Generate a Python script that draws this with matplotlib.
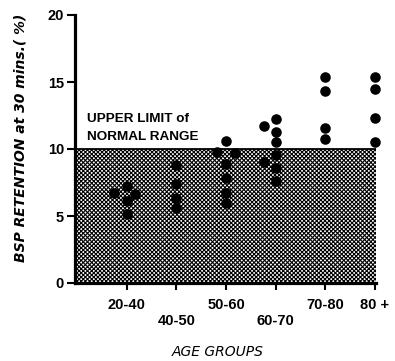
import matplotlib
matplotlib.use("Agg")
import matplotlib.pyplot as plt
import numpy as np

# ---- data ----
categories = ["20-40", "40-50", "50-60", "60-70", "70-80", "80 +"]
# per point: group index (0-based), small lateral offset, value
point_group = [0, 0, 0, 0, 0,
               1, 1, 1, 1,
               2, 2, 2, 2, 2, 2, 2,
               3, 3, 3, 3, 3, 3, 3, 3,
               4, 4, 4, 4,
               5, 5, 5, 5]
point_offset = [-0.25, 0.0, 0.17, 0.0, 0.0,
                0.0, 0.0, 0.0, 0.0,
                0.0, -0.19, 0.19, 0.0, 0.0, 0.0, 0.0,
                -0.23, 0.0, 0.0, 0.0, 0.0, -0.23, 0.0, 0.0,
                0.0, 0.0, 0.0, 0.0,
                0.0, 0.0, 0.0, 0.0]
point_value = [6.74, 7.26, 6.62, 6.12, 5.13,
               8.80, 7.38, 6.38, 5.57,
               10.58, 9.76, 9.68, 8.90, 7.87, 6.75, 5.95,
               11.75, 12.24, 11.27, 10.52, 9.52, 9.05, 8.56, 7.60,
               15.40, 14.30, 11.54, 10.75,
               15.40, 14.48, 12.34, 10.50]
upper_limit = 10
y_ticks = [0, 5, 10, 15, 20]

plt.rcParams['hatch.linewidth'] = 0.8
FAM = ['Liberation Sans', 'DejaVu Sans']

W, H = 395, 361
fig = plt.figure(figsize=(W / 100, H / 100), dpi=100)
ax = fig.add_axes([75 / W, 1 - 283 / H, (376 - 75) / W, (283 - 15) / H])

ax.set_xlim(-0.04, 6.02)
ax.set_ylim(0, 20)

# shaded normal range
ax.fill_between([-0.04, 6.02], 0, upper_limit, facecolor='white',
                edgecolor='black', hatch='x' * 8, linewidth=0, zorder=1)
ax.axhline(upper_limit, color='black', linewidth=1.3, zorder=2)

xs = np.array(point_group) + 1 + np.array(point_offset)
ax.plot(xs, point_value, 'o', color='black', markersize=7.6,
        markeredgewidth=0, clip_on=False, zorder=3)

ax.text(0.20, 12.04, "UPPER LIMIT of", fontsize=9.7, fontweight='bold',
        family=FAM, va='baseline', ha='left', zorder=4)
ax.text(0.20, 10.67, "NORMAL RANGE", fontsize=9.7, fontweight='bold',
        family=FAM, va='baseline', ha='left', zorder=4)

# axes styling
for s in ['top', 'right']:
    ax.spines[s].set_visible(False)
for s in ['left', 'bottom']:
    ax.spines[s].set_linewidth(2.3)
    ax.spines[s].set_zorder(5)

ax.set_yticks(y_ticks)
ax.set_yticklabels([str(t) for t in y_ticks], fontsize=10.5, fontweight='bold', family=FAM)
ax.tick_params(axis='y', length=6, width=1.5, pad=2)

ax.set_xticks(range(1, len(categories) + 1))
labels = [c if i % 2 == 0 or i == 5 else "\n" + c for i, c in enumerate(categories)]
ax.set_xticklabels(labels, fontsize=10.5, fontweight='bold', family=FAM)
ax.tick_params(axis='x', length=5, width=1.5, pad=6)

fig.text(20.7 / W, 1 - 138 / H, "BSP RETENTION at 30 mins.( %)", rotation=90,
         fontsize=10, fontweight='bold', style='italic', ha='center', va='center')
fig.text(218 / W, 1 - 352 / H, "AGE GROUPS", fontsize=10, style='italic',
         ha='center', va='center')

fig.savefig("out.png", dpi=100)
